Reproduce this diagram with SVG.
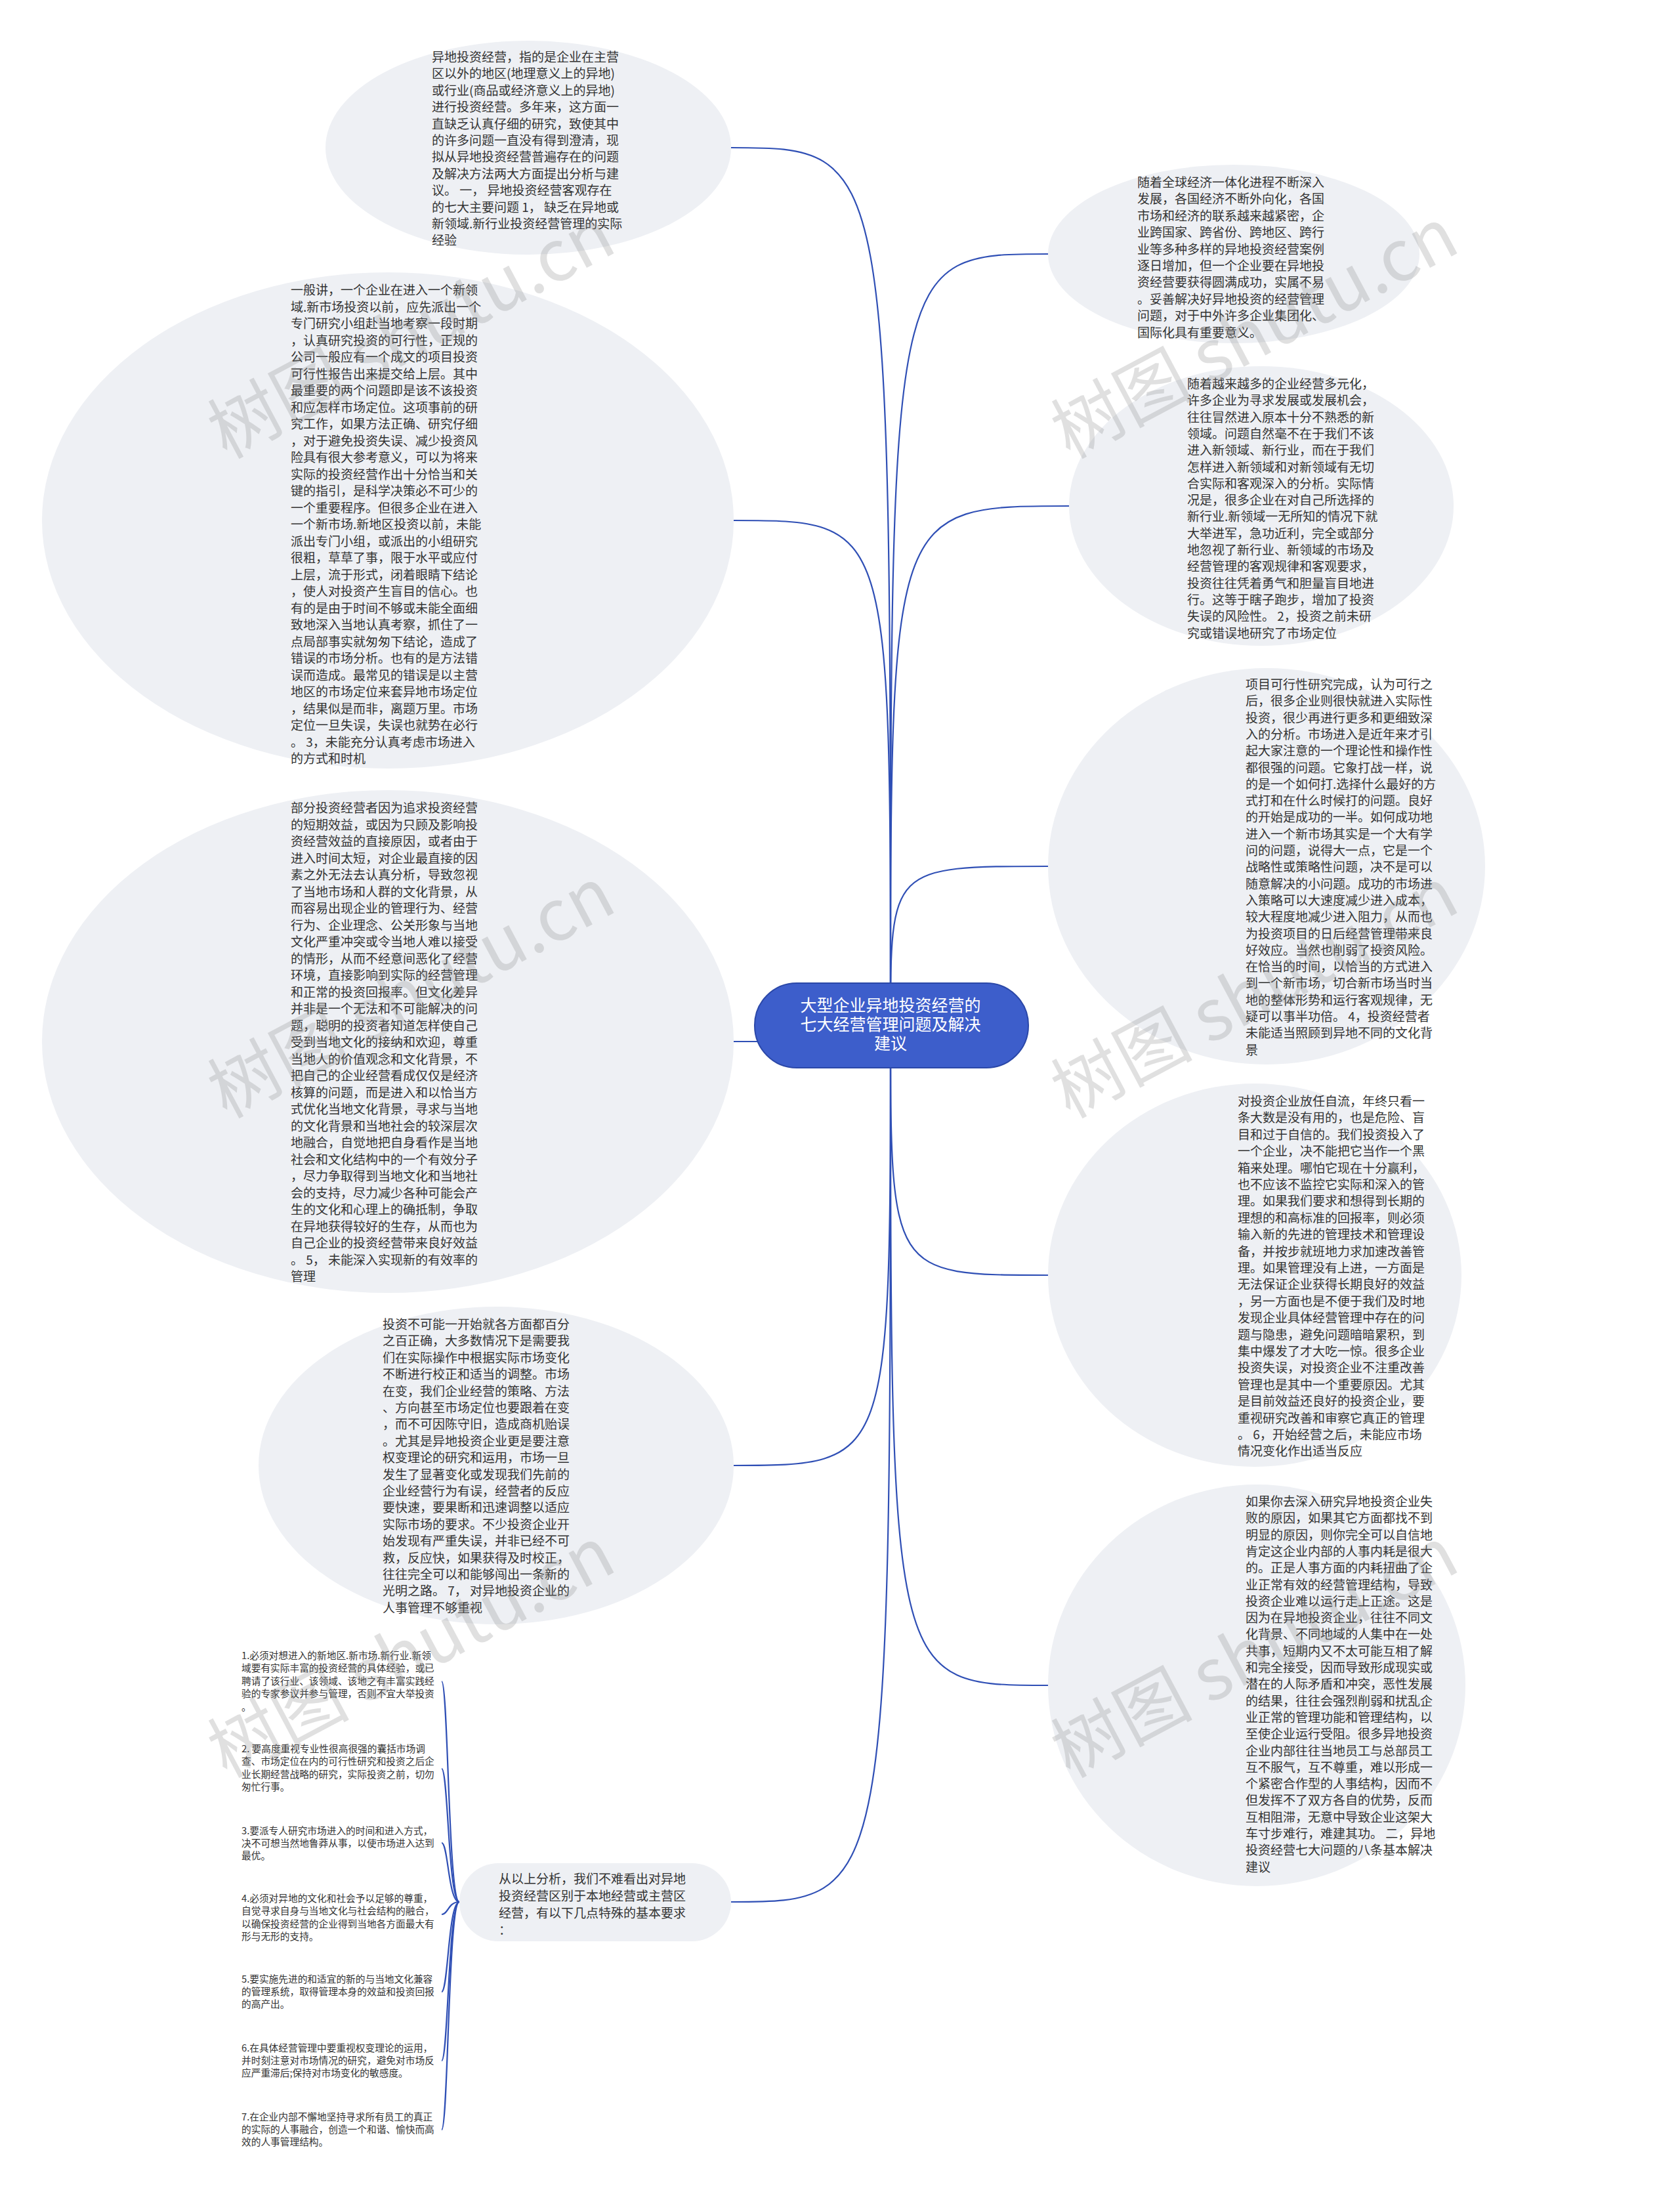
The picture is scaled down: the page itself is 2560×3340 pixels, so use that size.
<svg xmlns="http://www.w3.org/2000/svg" width="2560" height="3340" viewBox="0 0 2560 3340">
<style>
.bg{fill:#eef0f4;stroke:none}
.t{font-family:"Noto Sans CJK SC","Noto Sans",sans-serif;font-size:19px;fill:#333333}
.lf{font-family:"Noto Sans CJK SC","Noto Sans",sans-serif;font-size:14.7px;fill:#333333}
.ct{font-family:"Liberation Sans","Noto Sans CJK SC",sans-serif;font-size:25px;fill:#ffffff}
.c{fill:none;stroke:#2f4fb5;stroke-width:2.2}
.wm{font-family:"Noto Sans CJK SC","Liberation Sans",sans-serif;font-size:108px;fill:#8a8a8a;opacity:0.26}
</style>
<rect width="2560" height="3340" fill="#ffffff"/>
<g id="connectors">
<path class="c" d="M1357 1562 C1357 225 1357 225 1114 225"/>
<path class="c" d="M1357 1562 C1357 793 1357 793 1118 793"/>
<path class="c" d="M1357 1562 C1357 1587 1357 1587 1118 1587"/>
<path class="c" d="M1357 1562 C1357 2233 1357 2233 1118 2233"/>
<path class="c" d="M1357 1562 C1357 2898 1357 2898 1114 2898"/>
<path class="c" d="M1357 1562 C1357 387 1357 387 1597 387"/>
<path class="c" d="M1357 1562 C1357 771 1357 771 1629 771"/>
<path class="c" d="M1357 1562 C1357 1320 1357 1320 1597 1320"/>
<path class="c" d="M1357 1562 C1357 1943 1357 1943 1597 1943"/>
<path class="c" d="M1357 1562 C1357 2568 1357 2568 1597 2568"/>
<path class="c" d="M700 2898 C683 2898 683 2562 673 2562"/>
<path class="c" d="M700 2898 C683 2898 683 2695 673 2695"/>
<path class="c" d="M700 2898 C683 2898 683 2808 673 2808"/>
<path class="c" d="M700 2898 C683 2898 683 2917 673 2917"/>
<path class="c" d="M700 2898 C683 2898 683 3035 673 3035"/>
<path class="c" d="M700 2898 C683 2898 683 3140 673 3140"/>
<path class="c" d="M700 2898 C683 2898 683 3245 673 3245"/>
</g>
<g id="center">
<rect x="1150" y="1498" width="417" height="129" rx="64" fill="#3d5ecb" stroke="#2b48a8" stroke-width="2"/>
<text class="ct" text-anchor="middle"><tspan x="1357" y="1541">大型企业异地投资经营的</tspan><tspan x="1357" dy="29">七大经营管理问题及解决</tspan><tspan x="1357" dy="29">建议</tspan></text>
</g>
<g id="n-tl">
<ellipse class="bg" cx="805" cy="225" rx="309" ry="163"/>
<text class="t"><tspan x="658" y="94">异地投资经营，指的是企业在主营</tspan><tspan x="658" dy="25.4">区以外的地区(地理意义上的异地)</tspan><tspan x="658" dy="25.4">或行业(商品或经济意义上的异地)</tspan><tspan x="658" dy="25.4">进行投资经营。多年来，这方面一</tspan><tspan x="658" dy="25.4">直缺乏认真仔细的研究，致使其中</tspan><tspan x="658" dy="25.4">的许多问题一直没有得到澄清，现</tspan><tspan x="658" dy="25.4">拟从异地投资经营普遍存在的问题</tspan><tspan x="658" dy="25.4">及解决方法两大方面提出分析与建</tspan><tspan x="658" dy="25.4">议。 一， 异地投资经营客观存在</tspan><tspan x="658" dy="25.4">的七大主要问题 1， 缺乏在异地或</tspan><tspan x="658" dy="25.4">新领域.新行业投资经营管理的实际</tspan><tspan x="658" dy="25.4">经验</tspan></text>
</g>
<g id="n-l1">
<ellipse class="bg" cx="591" cy="793" rx="527" ry="378"/>
<text class="t"><tspan x="443" y="449">一般讲，一个企业在进入一个新领</tspan><tspan x="443" dy="25.5">域.新市场投资以前，应先派出一个</tspan><tspan x="443" dy="25.5">专门研究小组赴当地考察一段时期</tspan><tspan x="443" dy="25.5">，认真研究投资的可行性，正规的</tspan><tspan x="443" dy="25.5">公司一般应有一个成文的项目投资</tspan><tspan x="443" dy="25.5">可行性报告出来提交给上层。其中</tspan><tspan x="443" dy="25.5">最重要的两个问题即是该不该投资</tspan><tspan x="443" dy="25.5">和应怎样市场定位。这项事前的研</tspan><tspan x="443" dy="25.5">究工作，如果方法正确、研究仔细</tspan><tspan x="443" dy="25.5">，对于避免投资失误、减少投资风</tspan><tspan x="443" dy="25.5">险具有很大参考意义，可以为将来</tspan><tspan x="443" dy="25.5">实际的投资经营作出十分恰当和关</tspan><tspan x="443" dy="25.5">键的指引，是科学决策必不可少的</tspan><tspan x="443" dy="25.5">一个重要程序。但很多企业在进入</tspan><tspan x="443" dy="25.5">一个新市场.新地区投资以前，未能</tspan><tspan x="443" dy="25.5">派出专门小组，或派出的小组研究</tspan><tspan x="443" dy="25.5">很粗，草草了事，限于水平或应付</tspan><tspan x="443" dy="25.5">上层，流于形式，闭着眼睛下结论</tspan><tspan x="443" dy="25.5">，使人对投资产生盲目的信心。也</tspan><tspan x="443" dy="25.5">有的是由于时间不够或未能全面细</tspan><tspan x="443" dy="25.5">致地深入当地认真考察，抓住了一</tspan><tspan x="443" dy="25.5">点局部事实就匆匆下结论，造成了</tspan><tspan x="443" dy="25.5">错误的市场分析。也有的是方法错</tspan><tspan x="443" dy="25.5">误而造成。最常见的错误是以主营</tspan><tspan x="443" dy="25.5">地区的市场定位来套异地市场定位</tspan><tspan x="443" dy="25.5">，结果似是而非，离题万里。市场</tspan><tspan x="443" dy="25.5">定位一旦失误，失误也就势在必行</tspan><tspan x="443" dy="25.5">。 3，未能充分认真考虑市场进入</tspan><tspan x="443" dy="25.5">的方式和时机</tspan></text>
</g>
<g id="n-l2">
<ellipse class="bg" cx="591" cy="1587" rx="527" ry="383"/>
<text class="t"><tspan x="443" y="1238">部分投资经营者因为追求投资经营</tspan><tspan x="443" dy="25.5">的短期效益，或因为只顾及影响投</tspan><tspan x="443" dy="25.5">资经营效益的直接原因，或者由于</tspan><tspan x="443" dy="25.5">进入时间太短，对企业最直接的因</tspan><tspan x="443" dy="25.5">素之外无法去认真分析，导致忽视</tspan><tspan x="443" dy="25.5">了当地市场和人群的文化背景，从</tspan><tspan x="443" dy="25.5">而容易出现企业的管理行为、经营</tspan><tspan x="443" dy="25.5">行为、企业理念、公关形象与当地</tspan><tspan x="443" dy="25.5">文化严重冲突或令当地人难以接受</tspan><tspan x="443" dy="25.5">的情形，从而不经意间恶化了经营</tspan><tspan x="443" dy="25.5">环境，直接影响到实际的经营管理</tspan><tspan x="443" dy="25.5">和正常的投资回报率。但文化差异</tspan><tspan x="443" dy="25.5">并非是一个无法和不可能解决的问</tspan><tspan x="443" dy="25.5">题，聪明的投资者知道怎样使自己</tspan><tspan x="443" dy="25.5">受到当地文化的接纳和欢迎，尊重</tspan><tspan x="443" dy="25.5">当地人的价值观念和文化背景，不</tspan><tspan x="443" dy="25.5">把自己的企业经营看成仅仅是经济</tspan><tspan x="443" dy="25.5">核算的问题，而是进入和以恰当方</tspan><tspan x="443" dy="25.5">式优化当地文化背景，寻求与当地</tspan><tspan x="443" dy="25.5">的文化背景和当地社会的较深层次</tspan><tspan x="443" dy="25.5">地融合，自觉地把自身看作是当地</tspan><tspan x="443" dy="25.5">社会和文化结构中的一个有效分子</tspan><tspan x="443" dy="25.5">，尽力争取得到当地文化和当地社</tspan><tspan x="443" dy="25.5">会的支持，尽力减少各种可能会产</tspan><tspan x="443" dy="25.5">生的文化和心理上的确抵制，争取</tspan><tspan x="443" dy="25.5">在异地获得较好的生存，从而也为</tspan><tspan x="443" dy="25.5">自己企业的投资经营带来良好效益</tspan><tspan x="443" dy="25.5">。 5， 未能深入实现新的有效率的</tspan><tspan x="443" dy="25.5">管理</tspan></text>
</g>
<g id="n-l3">
<ellipse class="bg" cx="756" cy="2233" rx="362" ry="242"/>
<text class="t"><tspan x="583" y="2025">投资不可能一开始就各方面都百分</tspan><tspan x="583" dy="25.4">之百正确，大多数情况下是需要我</tspan><tspan x="583" dy="25.4">们在实际操作中根据实际市场变化</tspan><tspan x="583" dy="25.4">不断进行校正和适当的调整。市场</tspan><tspan x="583" dy="25.4">在变，我们企业经营的策略、方法</tspan><tspan x="583" dy="25.4">、方向甚至市场定位也要跟着在变</tspan><tspan x="583" dy="25.4">，而不可因陈守旧，造成商机贻误</tspan><tspan x="583" dy="25.4">。尤其是异地投资企业更是要注意</tspan><tspan x="583" dy="25.4">权变理论的研究和运用，市场一旦</tspan><tspan x="583" dy="25.4">发生了显著变化或发现我们先前的</tspan><tspan x="583" dy="25.4">企业经营行为有误，经营者的反应</tspan><tspan x="583" dy="25.4">要快速，要果断和迅速调整以适应</tspan><tspan x="583" dy="25.4">实际市场的要求。不少投资企业开</tspan><tspan x="583" dy="25.4">始发现有严重失误，并非已经不可</tspan><tspan x="583" dy="25.4">救，反应快，如果获得及时校正，</tspan><tspan x="583" dy="25.4">往往完全可以和能够闯出一条新的</tspan><tspan x="583" dy="25.4">光明之路。 7， 对异地投资企业的</tspan><tspan x="583" dy="25.4">人事管理不够重视</tspan></text>
</g>
<g id="n-summary">
<rect class="bg" x="700" y="2839" width="414" height="119" rx="59.5"/>
<text class="t"><tspan x="760" y="2870">从以上分析，我们不难看出对异地</tspan><tspan x="760" dy="26">投资经营区别于本地经营或主营区</tspan><tspan x="760" dy="26">经营，有以下几点特殊的基本要求</tspan><tspan x="760" dy="26">：</tspan></text>
</g>
<g id="leaf-1"><text class="lf"><tspan x="368" y="2528">1.必须对想进入的新地区.新市场.新行业.新领</tspan><tspan x="368" dy="19.4">域要有实际丰富的投资经营的具体经验，或已</tspan><tspan x="368" dy="19.4">聘请了该行业、该领域、该地之有丰富实践经</tspan><tspan x="368" dy="19.4">验的专家参议并参与管理，否则不宜大举投资</tspan><tspan x="368" dy="19.4">。</tspan></text></g>
<g id="leaf-2"><text class="lf"><tspan x="368" y="2670">2. 要高度重视专业性很高很强的囊括市场调</tspan><tspan x="368" dy="19.4">查、市场定位在内的可行性研究和投资之后企</tspan><tspan x="368" dy="19.4">业长期经营战略的研究，实际投资之前，切勿</tspan><tspan x="368" dy="19.4">匆忙行事。</tspan></text></g>
<g id="leaf-3"><text class="lf"><tspan x="368" y="2794.5">3.要派专人研究市场进入的时间和进入方式，</tspan><tspan x="368" dy="19.4">决不可想当然地鲁莽从事，以使市场进入达到</tspan><tspan x="368" dy="19.4">最优。</tspan></text></g>
<g id="leaf-4"><text class="lf"><tspan x="368" y="2898">4.必须对异地的文化和社会予以足够的尊重，</tspan><tspan x="368" dy="19.4">自觉寻求自身与当地文化与社会结构的融合，</tspan><tspan x="368" dy="19.4">以确保投资经营的企业得到当地各方面最大有</tspan><tspan x="368" dy="19.4">形与无形的支持。</tspan></text></g>
<g id="leaf-5"><text class="lf"><tspan x="368" y="3020.5">5.要实施先进的和适宜的新的与当地文化兼容</tspan><tspan x="368" dy="19.4">的管理系统，取得管理本身的效益和投资回报</tspan><tspan x="368" dy="19.4">的高产出。</tspan></text></g>
<g id="leaf-6"><text class="lf"><tspan x="368" y="3125.5">6.在具体经营管理中要重视权变理论的运用，</tspan><tspan x="368" dy="19.4">并时刻注意对市场情况的研究，避免对市场反</tspan><tspan x="368" dy="19.4">应严重滞后;保持对市场变化的敏感度。</tspan></text></g>
<g id="leaf-7"><text class="lf"><tspan x="368" y="3230.5">7.在企业内部不懈地坚持寻求所有员工的真正</tspan><tspan x="368" dy="19.4">的实际的人事融合，创造一个和谐、愉快而高</tspan><tspan x="368" dy="19.4">效的人事管理结构。</tspan></text></g>
<g id="n-r1">
<ellipse class="bg" cx="1880" cy="387" rx="283" ry="136"/>
<text class="t"><tspan x="1733" y="285">随着全球经济一体化进程不断深入</tspan><tspan x="1733" dy="25.4">发展，各国经济不断外向化，各国</tspan><tspan x="1733" dy="25.4">市场和经济的联系越来越紧密，企</tspan><tspan x="1733" dy="25.4">业跨国家、跨省份、跨地区、跨行</tspan><tspan x="1733" dy="25.4">业等多种多样的异地投资经营案例</tspan><tspan x="1733" dy="25.4">逐日增加，但一个企业要在异地投</tspan><tspan x="1733" dy="25.4">资经营要获得圆满成功，实属不易</tspan><tspan x="1733" dy="25.4">。妥善解决好异地投资的经营管理</tspan><tspan x="1733" dy="25.4">问题，对于中外许多企业集团化、</tspan><tspan x="1733" dy="25.4">国际化具有重要意义。</tspan></text>
</g>
<g id="n-r2">
<ellipse class="bg" cx="1922" cy="771" rx="293" ry="213"/>
<text class="t"><tspan x="1809" y="592">随着越来越多的企业经营多元化，</tspan><tspan x="1809" dy="25.3">许多企业为寻求发展或发展机会，</tspan><tspan x="1809" dy="25.3">往往冒然进入原本十分不熟悉的新</tspan><tspan x="1809" dy="25.3">领域。问题自然毫不在于我们不该</tspan><tspan x="1809" dy="25.3">进入新领域、新行业，而在于我们</tspan><tspan x="1809" dy="25.3">怎样进入新领域和对新领域有无切</tspan><tspan x="1809" dy="25.3">合实际和客观深入的分析。实际情</tspan><tspan x="1809" dy="25.3">况是，很多企业在对自己所选择的</tspan><tspan x="1809" dy="25.3">新行业.新领域一无所知的情况下就</tspan><tspan x="1809" dy="25.3">大举进军，急功近利，完全或部分</tspan><tspan x="1809" dy="25.3">地忽视了新行业、新领域的市场及</tspan><tspan x="1809" dy="25.3">经营管理的客观规律和客观要求，</tspan><tspan x="1809" dy="25.3">投资往往凭着勇气和胆量盲目地进</tspan><tspan x="1809" dy="25.3">行。这等于瞎子跑步，增加了投资</tspan><tspan x="1809" dy="25.3">失误的风险性。 2，投资之前未研</tspan><tspan x="1809" dy="25.3">究或错误地研究了市场定位</tspan></text>
</g>
<g id="n-r3">
<ellipse class="bg" cx="1930" cy="1320" rx="333" ry="302"/>
<text class="t"><tspan x="1898" y="1050">项目可行性研究完成，认为可行之</tspan><tspan x="1898" dy="25.3">后，很多企业则很快就进入实际性</tspan><tspan x="1898" dy="25.3">投资，很少再进行更多和更细致深</tspan><tspan x="1898" dy="25.3">入的分析。市场进入是近年来才引</tspan><tspan x="1898" dy="25.3">起大家注意的一个理论性和操作性</tspan><tspan x="1898" dy="25.3">都很强的问题。它象打战一样，说</tspan><tspan x="1898" dy="25.3">的是一个如何打.选择什么最好的方</tspan><tspan x="1898" dy="25.3">式打和在什么时候打的问题。良好</tspan><tspan x="1898" dy="25.3">的开始是成功的一半。如何成功地</tspan><tspan x="1898" dy="25.3">进入一个新市场其实是一个大有学</tspan><tspan x="1898" dy="25.3">问的问题，说得大一点，它是一个</tspan><tspan x="1898" dy="25.3">战略性或策略性问题，决不是可以</tspan><tspan x="1898" dy="25.3">随意解决的小问题。成功的市场进</tspan><tspan x="1898" dy="25.3">入策略可以大速度减少进入成本，</tspan><tspan x="1898" dy="25.3">较大程度地减少进入阻力，从而也</tspan><tspan x="1898" dy="25.3">为投资项目的日后经营管理带来良</tspan><tspan x="1898" dy="25.3">好效应。当然也削弱了投资风险。</tspan><tspan x="1898" dy="25.3">在恰当的时间，以恰当的方式进入</tspan><tspan x="1898" dy="25.3">到一个新市场，切合新市场当时当</tspan><tspan x="1898" dy="25.3">地的整体形势和运行客观规律，无</tspan><tspan x="1898" dy="25.3">疑可以事半功倍。 4，投资经营者</tspan><tspan x="1898" dy="25.3">未能适当照顾到异地不同的文化背</tspan><tspan x="1898" dy="25.3">景</tspan></text>
</g>
<g id="n-r4">
<ellipse class="bg" cx="1912" cy="1943" rx="315" ry="292"/>
<text class="t"><tspan x="1886" y="1685">对投资企业放任自流，年终只看一</tspan><tspan x="1886" dy="25.4">条大数是没有用的，也是危险、盲</tspan><tspan x="1886" dy="25.4">目和过于自信的。我们投资投入了</tspan><tspan x="1886" dy="25.4">一个企业，决不能把它当作一个黑</tspan><tspan x="1886" dy="25.4">箱来处理。哪怕它现在十分赢利，</tspan><tspan x="1886" dy="25.4">也不应该不监控它实际和深入的管</tspan><tspan x="1886" dy="25.4">理。如果我们要求和想得到长期的</tspan><tspan x="1886" dy="25.4">理想的和高标准的回报率，则必须</tspan><tspan x="1886" dy="25.4">输入新的先进的管理技术和管理设</tspan><tspan x="1886" dy="25.4">备，并按步就班地力求加速改善管</tspan><tspan x="1886" dy="25.4">理。如果管理没有上进，一方面是</tspan><tspan x="1886" dy="25.4">无法保证企业获得长期良好的效益</tspan><tspan x="1886" dy="25.4">，另一方面也是不便于我们及时地</tspan><tspan x="1886" dy="25.4">发现企业具体经营管理中存在的问</tspan><tspan x="1886" dy="25.4">题与隐患，避免问题暗暗累积，到</tspan><tspan x="1886" dy="25.4">集中爆发了才大吃一惊。很多企业</tspan><tspan x="1886" dy="25.4">投资失误，对投资企业不注重改善</tspan><tspan x="1886" dy="25.4">管理也是其中一个重要原因。尤其</tspan><tspan x="1886" dy="25.4">是目前效益还良好的投资企业，要</tspan><tspan x="1886" dy="25.4">重视研究改善和审察它真正的管理</tspan><tspan x="1886" dy="25.4">。 6，开始经营之后，未能应市场</tspan><tspan x="1886" dy="25.4">情况变化作出适当反应</tspan></text>
</g>
<g id="n-r5">
<ellipse class="bg" cx="1915" cy="2568" rx="318" ry="306"/>
<text class="t"><tspan x="1898" y="2295">如果你去深入研究异地投资企业失</tspan><tspan x="1898" dy="25.3">败的原因，如果其它方面都找不到</tspan><tspan x="1898" dy="25.3">明显的原因，则你完全可以自信地</tspan><tspan x="1898" dy="25.3">肯定这企业内部的人事内耗是很大</tspan><tspan x="1898" dy="25.3">的。正是人事方面的内耗扭曲了企</tspan><tspan x="1898" dy="25.3">业正常有效的经营管理结构，导致</tspan><tspan x="1898" dy="25.3">投资企业难以运行走上正途。这是</tspan><tspan x="1898" dy="25.3">因为在异地投资企业，往往不同文</tspan><tspan x="1898" dy="25.3">化背景、不同地域的人集中在一处</tspan><tspan x="1898" dy="25.3">共事，短期内又不太可能互相了解</tspan><tspan x="1898" dy="25.3">和完全接受，因而导致形成现实或</tspan><tspan x="1898" dy="25.3">潜在的人际矛盾和冲突，恶性发展</tspan><tspan x="1898" dy="25.3">的结果，往往会强烈削弱和扰乱企</tspan><tspan x="1898" dy="25.3">业正常的管理功能和管理结构，以</tspan><tspan x="1898" dy="25.3">至使企业运行受阻。很多异地投资</tspan><tspan x="1898" dy="25.3">企业内部往往当地员工与总部员工</tspan><tspan x="1898" dy="25.3">互不服气，互不尊重，难以形成一</tspan><tspan x="1898" dy="25.3">个紧密合作型的人事结构，因而不</tspan><tspan x="1898" dy="25.3">但发挥不了双方各自的优势，反而</tspan><tspan x="1898" dy="25.3">互相阻滞，无意中导致企业这架大</tspan><tspan x="1898" dy="25.3">车寸步难行，难建其功。 二，异地</tspan><tspan x="1898" dy="25.3">投资经营七大问题的八条基本解决</tspan><tspan x="1898" dy="25.3">建议</tspan></text>
</g>
<g id="watermarks">
<text class="wm" transform="translate(345 700) rotate(-28)">树图 shutu.cn</text>
<text class="wm" transform="translate(345 1705) rotate(-28)">树图 shutu.cn</text>
<text class="wm" transform="translate(345 2710) rotate(-28)">树图 shutu.cn</text>
<text class="wm" transform="translate(1630 700) rotate(-28)">树图 shutu.cn</text>
<text class="wm" transform="translate(1630 1705) rotate(-28)">树图 shutu.cn</text>
<text class="wm" transform="translate(1630 2710) rotate(-28)">树图 shutu.cn</text>
</g>
</svg>
